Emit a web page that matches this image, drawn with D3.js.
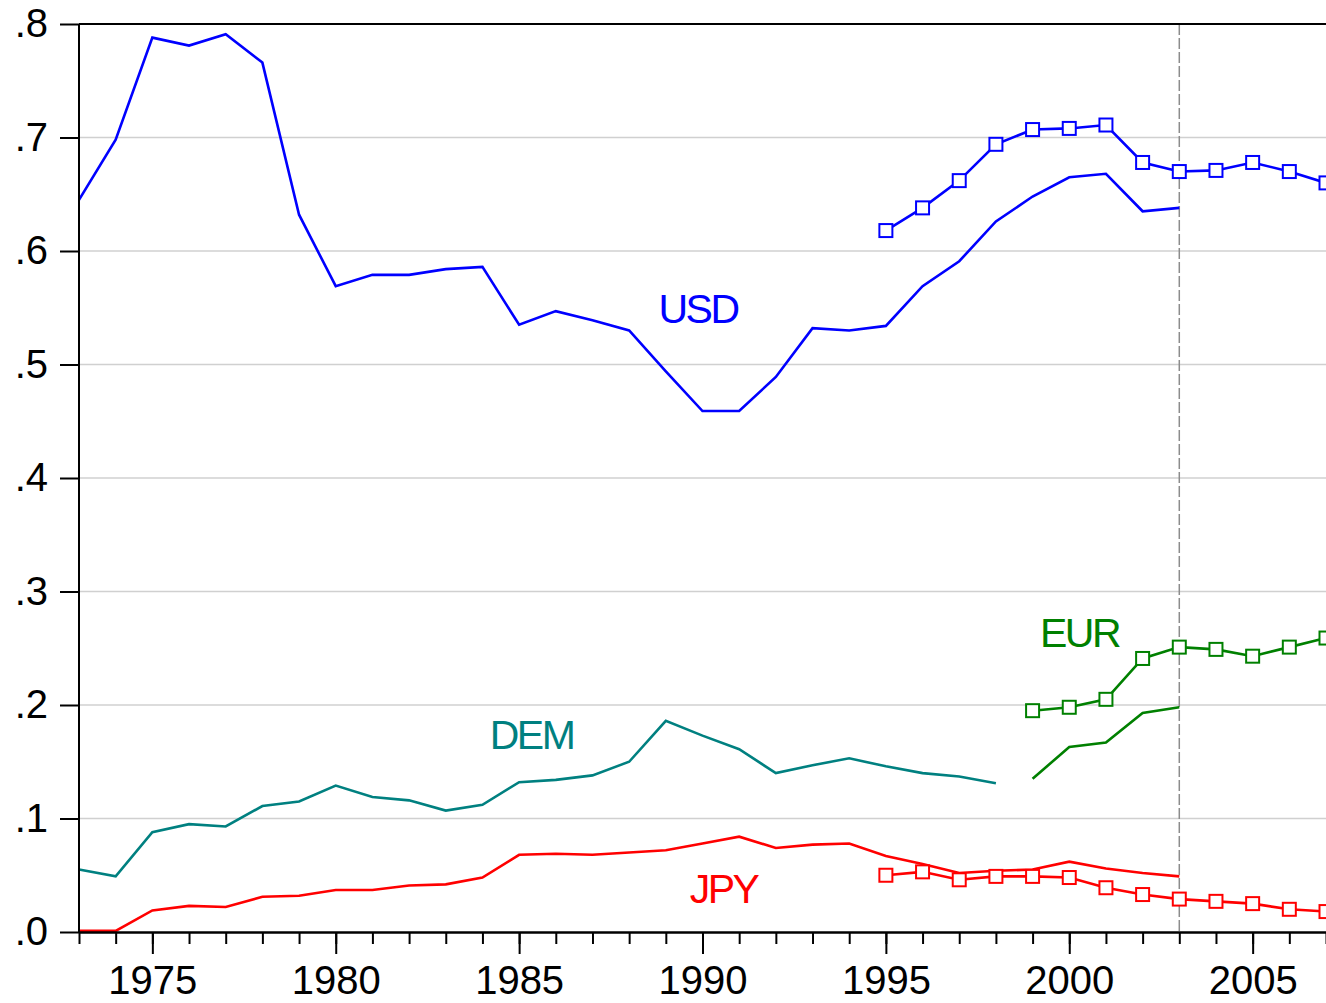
<!DOCTYPE html>
<html>
<head>
<meta charset="utf-8">
<script src="https://cdn.jsdelivr.net/npm/d3@7"></script>
<style>
  html, body { margin: 0; padding: 0; background: #fff; }
  svg { display: block; font-family: "Liberation Sans", Arial, sans-serif; }
</style>
</head>
<body>
<div id="chart"></div>
<script>
// ---- Data ----
const yearsFull = d3.range(1973, 2004);   // 1973..2003
const usdOld = [0.645, 0.698, 0.788, 0.781, 0.791, 0.766, 0.632, 0.569, 0.579, 0.579,
                0.584, 0.586, 0.535, 0.547, 0.539, 0.530, 0.494, 0.459, 0.459, 0.489,
                0.532, 0.530, 0.534, 0.569, 0.591, 0.626, 0.648, 0.665, 0.668, 0.635, 0.638];
const jpyOld = [0.001, 0.001, 0.019, 0.023, 0.022, 0.031, 0.032, 0.037, 0.037, 0.041,
                0.042, 0.048, 0.068, 0.069, 0.068, 0.070, 0.072, 0.078, 0.084, 0.074,
                0.077, 0.078, 0.067, 0.060, 0.052, 0.054, 0.055, 0.062, 0.056, 0.052, 0.049];
const yearsDem = d3.range(1973, 1999);    // 1973..1998
const demOld = [0.055, 0.049, 0.088, 0.095, 0.093, 0.111, 0.115, 0.129, 0.119, 0.116,
                0.107, 0.112, 0.132, 0.134, 0.138, 0.150, 0.186, 0.173, 0.161, 0.140,
                0.147, 0.153, 0.146, 0.140, 0.137, 0.131];
const yearsEurOld = d3.range(1999, 2004); // 1999..2003
const eurOld = [0.135, 0.163, 0.167, 0.193, 0.198];

const yearsNew = d3.range(1995, 2008);    // 1995..2007 (square markers)
const usdNew = [0.618, 0.638, 0.662, 0.694, 0.707, 0.708, 0.711, 0.678, 0.670, 0.671, 0.678, 0.670, 0.660];
const jpyNew = [0.050, 0.053, 0.046, 0.049, 0.049, 0.048, 0.039, 0.033, 0.029, 0.027, 0.025, 0.020, 0.018];
const yearsEurNew = d3.range(1999, 2008); // 1999..2007
const eurNew = [0.195, 0.198, 0.205, 0.241, 0.251, 0.249, 0.243, 0.251, 0.259];

const yTicks = [0, 0.1, 0.2, 0.3, 0.4, 0.5, 0.6, 0.7, 0.8];
const yTickLabels = [".0", ".1", ".2", ".3", ".4", ".5", ".6", ".7", ".8"];
const xMajorTicks = [1975, 1980, 1985, 1990, 1995, 2000, 2005];
const xMinorTicks = d3.range(1973, 2008);
const breakYear = 2003;

const labels = [
  { text: "USD", year: 1988.8, value: 0.5366, color: "#0000ff" },
  { text: "DEM", year: 1984.2, value: 0.161, color: "#008080" },
  { text: "EUR", year: 1999.2, value: 0.2514, color: "#008000" },
  { text: "JPY", year: 1989.65, value: 0.0253, color: "#ff0000" }
];

// ---- Layout ----
const W = 1326, H = 1003;
const mLeft = 79, mRight = 1326, mTop = 24, mBottom = 932;

const svg = d3.select("#chart").append("svg").attr("width", W).attr("height", H);

const x = d3.scaleLinear().domain([1973, 2007]).range([mLeft, mRight]);
const y = d3.scaleLinear().domain([0, 0.8]).range([mBottom, mTop]);

// gridlines
svg.append("g").selectAll("line")
  .data(yTicks.filter(v => v > 0 && v < 0.8))
  .join("line")
  .attr("x1", mLeft).attr("x2", mRight)
  .attr("y1", d => y(d)).attr("y2", d => y(d))
  .attr("stroke", "#d0d0d0").attr("stroke-width", 1.5);

// vertical dashed line
svg.append("line")
  .attr("x1", x(breakYear)).attr("x2", x(breakYear))
  .attr("y1", mTop).attr("y2", mBottom)
  .attr("stroke", "#8c8c8c").attr("stroke-width", 1.5)
  .attr("stroke-dasharray", "11,3");

// lines
const line = d3.line().x(d => x(d[0])).y(d => y(d[1]));
const zip = (a, b) => a.map((v, i) => [v, b[i]]);

const series = [
  { xs: yearsFull, ys: usdOld, color: "#0000ff", markers: false },
  { xs: yearsFull, ys: jpyOld, color: "#ff0000", markers: false },
  { xs: yearsDem, ys: demOld, color: "#008080", markers: false },
  { xs: yearsEurOld, ys: eurOld, color: "#008000", markers: false },
  { xs: yearsNew, ys: usdNew, color: "#0000ff", markers: true },
  { xs: yearsNew, ys: jpyNew, color: "#ff0000", markers: true },
  { xs: yearsEurNew, ys: eurNew, color: "#008000", markers: true }
];

series.forEach(s => {
  const pts = zip(s.xs, s.ys);
  svg.append("path")
    .attr("d", line(pts))
    .attr("fill", "none")
    .attr("stroke", s.color)
    .attr("stroke-width", 2.6)
    .attr("stroke-linejoin", "miter");
  if (s.markers) {
    const sz = 13;
    svg.append("g").selectAll("rect")
      .data(pts)
      .join("rect")
      .attr("x", d => x(d[0]) - sz / 2)
      .attr("y", d => y(d[1]) - sz / 2)
      .attr("width", sz).attr("height", sz)
      .attr("fill", "#fff")
      .attr("stroke", s.color)
      .attr("stroke-width", 2);
  }
});

// series labels
svg.append("g").selectAll("text")
  .data(labels)
  .join("text")
  .attr("x", d => x(d.year))
  .attr("y", d => y(d.value))
  .attr("fill", d => d.color)
  .attr("font-size", 41)
  .attr("letter-spacing", -2.5)
  .text(d => d.text);

// top border
svg.append("line")
  .attr("x1", mLeft).attr("x2", mRight)
  .attr("y1", mTop).attr("y2", mTop)
  .attr("stroke", "#000").attr("stroke-width", 2);

// y axis
const yAxis = d3.axisLeft(y)
  .tickValues(yTicks)
  .tickFormat((d, i) => yTickLabels[i])
  .tickSize(19)
  .tickPadding(12);
const gy = svg.append("g").attr("transform", `translate(${mLeft},0)`).call(yAxis);
gy.select(".domain").attr("stroke", "#000").attr("stroke-width", 2)
  .attr("d", `M0,${mTop}V${mBottom}`);
gy.selectAll(".tick line").attr("stroke", "#000").attr("stroke-width", 2);
gy.selectAll(".tick text").attr("font-size", 40).attr("fill", "#000")
  .attr("font-family", "Liberation Sans, Arial, sans-serif");

// x axis minor ticks
const xMinor = d3.axisBottom(x).tickValues(xMinorTicks).tickFormat("").tickSize(12).tickSizeOuter(0);
const gxm = svg.append("g").attr("transform", `translate(0,${mBottom})`).call(xMinor);
gxm.select(".domain").remove();
gxm.selectAll(".tick line").attr("stroke", "#000").attr("stroke-width", 2);

// x axis major
const xAxis = d3.axisBottom(x)
  .tickValues(xMajorTicks)
  .tickFormat(d3.format("d"))
  .tickSize(22)
  .tickSizeOuter(0)
  .tickPadding(12);
const gx = svg.append("g").attr("transform", `translate(0,${mBottom})`).call(xAxis);
gx.select(".domain").attr("stroke", "#000").attr("stroke-width", 2.5);
gx.selectAll(".tick line").attr("stroke", "#000").attr("stroke-width", 2);
gx.selectAll(".tick text").attr("font-size", 40).attr("fill", "#000")
  .attr("font-family", "Liberation Sans, Arial, sans-serif");
</script>
</body>
</html>
